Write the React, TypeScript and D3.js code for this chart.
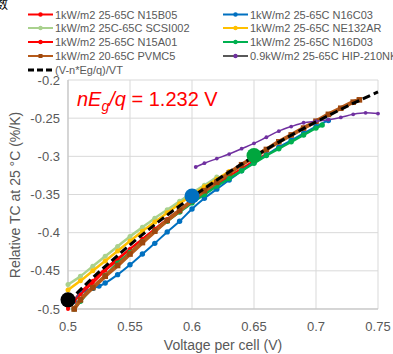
import React from "react";
import * as d3 from "d3";

const xTicks = [0.5, 0.55, 0.6, 0.65, 0.7, 0.75];
const yTicks = [-0.5, -0.45, -0.4, -0.35, -0.3, -0.25, -0.2];

const vN15B05 = [0.5, 0.505, 0.51, 0.52, 0.53, 0.54, 0.55, 0.56, 0.57, 0.58, 0.59, 0.6, 0.61, 0.62, 0.63, 0.64, 0.65, 0.66];
const tcN15B05 = [-0.5, -0.488, -0.478, -0.463, -0.447, -0.434, -0.421, -0.408, -0.395, -0.382, -0.37, -0.358, -0.347, -0.336, -0.326, -0.316, -0.306, -0.297];

const vN16C03 = [0.505, 0.51, 0.515, 0.52, 0.525, 0.53, 0.54, 0.55, 0.56, 0.57, 0.58, 0.59, 0.6, 0.61, 0.62, 0.63, 0.64, 0.65, 0.66, 0.67, 0.68, 0.69, 0.7, 0.71];
const tcN16C03 = [-0.49, -0.479, -0.476, -0.473, -0.47, -0.466, -0.455, -0.442, -0.428, -0.414, -0.399, -0.385, -0.369, -0.355, -0.343, -0.331, -0.319, -0.308, -0.298, -0.288, -0.279, -0.27, -0.261, -0.253];

const vSCSI002 = [0.5, 0.51, 0.52, 0.53, 0.54, 0.55, 0.56, 0.57, 0.58, 0.59, 0.6, 0.61, 0.62];
const tcSCSI002 = [-0.468, -0.457, -0.444, -0.431, -0.418, -0.405, -0.393, -0.381, -0.37, -0.359, -0.348, -0.338, -0.327];

const vNE132AR = [0.5, 0.51, 0.52, 0.53, 0.54, 0.55, 0.56, 0.57, 0.58, 0.59, 0.6, 0.61, 0.62, 0.63];
const tcNE132AR = [-0.475, -0.463, -0.45, -0.437, -0.424, -0.411, -0.398, -0.386, -0.374, -0.362, -0.351, -0.34, -0.33, -0.32];

const vN15A01 = [0.5, 0.505, 0.51, 0.52, 0.53, 0.54, 0.55, 0.56, 0.57, 0.58, 0.59, 0.6, 0.61, 0.62, 0.63];
const tcN15A01 = [-0.498, -0.49, -0.481, -0.466, -0.45, -0.436, -0.422, -0.409, -0.396, -0.383, -0.371, -0.359, -0.348, -0.337, -0.327];

const vN16D03 = [0.505, 0.51, 0.52, 0.53, 0.54, 0.55, 0.56, 0.57, 0.58, 0.59, 0.6, 0.61, 0.62, 0.63, 0.64, 0.65, 0.66, 0.67, 0.68, 0.69, 0.7, 0.705];
const tcN16D03 = [-0.5, -0.49, -0.472, -0.456, -0.44, -0.426, -0.412, -0.398, -0.385, -0.373, -0.361, -0.35, -0.339, -0.329, -0.319, -0.309, -0.299, -0.29, -0.281, -0.272, -0.263, -0.259];

const vPVMC5 = [0.505, 0.51, 0.52, 0.53, 0.54, 0.55, 0.56, 0.57, 0.58, 0.59, 0.6, 0.61, 0.62, 0.63, 0.64, 0.65, 0.66, 0.67, 0.68, 0.69, 0.7, 0.71, 0.72, 0.73, 0.735];
const tcPVMC5 = [-0.5, -0.488, -0.472, -0.457, -0.443, -0.428, -0.413, -0.398, -0.384, -0.371, -0.358, -0.345, -0.334, -0.322, -0.311, -0.301, -0.291, -0.281, -0.272, -0.263, -0.254, -0.245, -0.237, -0.229, -0.226];

const vHIP = [0.603, 0.61, 0.62, 0.63, 0.64, 0.65, 0.66, 0.67, 0.68, 0.69, 0.7, 0.71, 0.72, 0.73, 0.74, 0.75];
const tcHIP = [-0.314, -0.309, -0.303, -0.297, -0.29, -0.283, -0.275, -0.267, -0.261, -0.256, -0.254, -0.252, -0.249, -0.245, -0.243, -0.244];

const vModel = [0.5, 0.52, 0.54, 0.56, 0.58, 0.6, 0.62, 0.64, 0.66, 0.68, 0.7, 0.72, 0.74, 0.75];
const tcModel = [-0.491, -0.459, -0.43, -0.4025, -0.377, -0.3533, -0.3311, -0.3102, -0.2907, -0.2723, -0.2549, -0.2385, -0.223, -0.2156];

const highlightV = [0.5, 0.6, 0.65];
const highlightTC = [-0.488, -0.352, -0.299];
const highlightColors = ["#000000", "#0070C0", "#00A63E"];

type Series = { name: string; v: number[]; tc: number[]; color: string; lineColor: string; r: number; w: number; square?: boolean };

const series: Series[] = [
  { name: "1kW/m2 25-65C N15B05", v: vN15B05, tc: tcN15B05, color: "#FF0000", lineColor: "#FF0000", r: 2, w: 2 },
  { name: "1kW/m2 25-65C N16C03", v: vN16C03, tc: tcN16C03, color: "#0070C0", lineColor: "#0070C0", r: 2.7, w: 2 },
  { name: "1kW/m2 25C-65C SCSI002", v: vSCSI002, tc: tcSCSI002, color: "#A9D18E", lineColor: "#A9D18E", r: 2.5, w: 2.5 },
  { name: "1kW/m2 25-65C NE132AR", v: vNE132AR, tc: tcNE132AR, color: "#FFC000", lineColor: "#FFC000", r: 2.5, w: 2.5 },
  { name: "1kW/m2 25-65C N15A01", v: vN15A01, tc: tcN15A01, color: "#FF0000", lineColor: "#FF0000", r: 2, w: 2 },
  { name: "1kW/m2 25-65C N16D03", v: vN16D03, tc: tcN16D03, color: "#00B050", lineColor: "#00B050", r: 2.7, w: 2.5 },
  { name: "1kW/m2 20-65C PVMC5", v: vPVMC5, tc: tcPVMC5, color: "#9E480E", lineColor: "#B65A1A", r: 2.8, w: 4, square: true },
  { name: "0.9kW/m2 25-65C HIP-210NKH", v: vHIP, tc: tcHIP, color: "#7030A0", lineColor: "#7030A0", r: 1.9, w: 1.5 },
];

const legendOrder = [0, 1, 2, 3, 4, 5, 6, 7];

export default function App() {
  const W = 393, H = 354;
  const x = d3.scaleLinear().domain([0.5, 0.75]).range([68, 378]);
  const y = d3.scaleLinear().domain([-0.5, -0.2]).range([309, 80]);
  const line = (v: number[], tc: number[]) =>
    d3.line<number>().x((_, i) => x(v[i])).y((_, i) => y(tc[i])).curve(d3.curveMonotoneX)(v) || "";
  const font = "'Liberation Sans', Arial, sans-serif";
  const gray = "#595959";
  const colX = [28, 223];
  const rowY = [14.5, 28, 42, 56, 70];

  return (
    <svg width={W} height={H} style={{ position: "absolute", left: 0, top: 0, background: "#fff" }} fontFamily={font}>
      <text x={-4} y={9} fontSize={12} fill="#000" fontFamily="'Noto Sans CJK SC', sans-serif">数</text>
      {yTicks.map((t) => (
        <line key={"gy" + t} x1={68} x2={378} y1={y(t)} y2={y(t)} stroke="#D9D9D9" strokeWidth={1} />
      ))}
      {xTicks.map((t) => (
        <line key={"gx" + t} x1={x(t)} x2={x(t)} y1={80} y2={309} stroke="#D9D9D9" strokeWidth={1} />
      ))}
      <line x1={68} x2={68} y1={80} y2={309} stroke="#BFBFBF" />
      <line x1={68} x2={378} y1={309} y2={309} stroke="#BFBFBF" />
      {yTicks.map((t) => (
        <text key={"ty" + t} x={60} y={y(t) + 4.5} fontSize={13} fill={gray} textAnchor="end">{String(t)}</text>
      ))}
      {xTicks.map((t) => (
        <text key={"tx" + t} x={x(t)} y={331} fontSize={13} fill={gray} textAnchor="middle">{String(t)}</text>
      ))}
      <text x={223} y={350} fontSize={14} fill={gray} textAnchor="middle">Voltage per cell (V)</text>
      <text transform={`translate(20,195) rotate(-90)`} fontSize={14} fill={gray} textAnchor="middle">Relative TC at 25 °C (%/K)</text>
      {series.map((s, si) => (
        <g key={"s" + si}>
          <path d={line(s.v, s.tc)} fill="none" stroke={s.lineColor} strokeWidth={s.w} />
          {s.v.map((vv, i) =>
            s.square ? (
              <rect key={i} x={x(vv) - s.r} y={y(s.tc[i]) - s.r} width={s.r * 2} height={s.r * 2} fill={s.color} />
            ) : (
              <circle key={i} cx={x(vv)} cy={y(s.tc[i])} r={s.r} fill={s.color} />
            )
          )}
        </g>
      ))}
      <path d={line(vModel, tcModel)} fill="none" stroke="#000" strokeWidth={3} strokeDasharray="8,4" />
      {highlightV.map((vv, i) => (
        <circle key={"h" + i} cx={x(vv)} cy={y(highlightTC[i])} r={7.5} fill={highlightColors[i]} />
      ))}
      <text x={77} y={106} fontSize={20} fill="#FF0000">
        <tspan fontStyle="italic">nE</tspan>
        <tspan fontStyle="italic" fontSize={14} dy={5}>g</tspan>
        <tspan fontStyle="italic" dy={-5}>/q</tspan>
        <tspan> = 1.232 V</tspan>
      </text>
      {legendOrder.map((si, k) => {
        const s = series[si];
        const cx = colX[k % 2];
        const cy = rowY[Math.floor(k / 2)];
        const lc = si === 7 ? "#595959" : s.lineColor;
        return (
          <g key={"l" + k}>
            <line x1={cx} x2={cx + 25} y1={cy} y2={cy} stroke={lc} strokeWidth={2} />
            {s.square ? (
              <rect x={cx + 12.5 - 2} y={cy - 2} width={4} height={4} fill={s.color} />
            ) : (
              <circle cx={cx + 12.5} cy={cy} r={2.2} fill={s.color} />
            )}
            <text x={cx + 27} y={cy + 4} fontSize={11} fill={gray}>{s.name}</text>
          </g>
        );
      })}
      <line x1={28} x2={53} y1={70} y2={70} stroke="#000" strokeWidth={3} strokeDasharray="6,3" />
      <text x={55} y={74} fontSize={11} fill={gray}>(V-n*Eg/q)/VT</text>
    </svg>
  );
}
